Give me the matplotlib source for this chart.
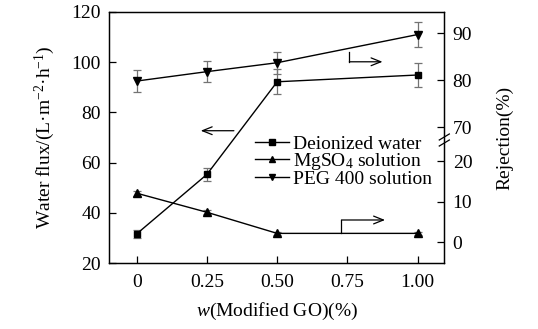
import numpy as np
import matplotlib
matplotlib.use("Agg")
import matplotlib.pyplot as plt
from matplotlib.lines import Line2D

plt.rcParams['font.family'] = ['Liberation Serif', 'DejaVu Serif']
plt.rcParams['mathtext.fontset'] = 'custom'
plt.rcParams['mathtext.rm'] = 'Liberation Serif'
plt.rcParams['mathtext.it'] = 'Liberation Serif:italic'
plt.rcParams['font.size'] = 14

# ---- data ----
go_content = [0, 0.25, 0.50, 1.00]
x_ticks = [0, 0.25, 0.50, 0.75, 1.00]
x_ticklabels = ["0", "0.25", "0.50", "0.75", "1.00"]

flux_water = [31.6, 55.3, 92.2, 94.9]
flux_water_err = [1.5, 2.5, 5.0, 4.8]

rej_mgso4 = [12.1, 7.4, 2.2, 2.2]
rej_mgso4_err = [0.6, 0.5, 0.4, 0.4]

rej_peg = [79.8, 81.8, 83.7, 89.7]
rej_peg_err = [2.3, 2.3, 2.3, 2.7]

series_labels = ['Deionized water', 'MgSO$_4$ solution', 'PEG 400 solution']

left_ticks = [20, 40, 60, 80, 100, 120]
right_ticks = [0, 10, 20, 70, 80, 90]

# ---- broken right-axis scale ----
B0, S1 = 20.7, 4.06
U25 = B0 + S1 * 25
U70, S2 = 136.0, 4.7

def fwd(v):
    v = np.asarray(v, dtype=float)
    return np.where(v <= 25, B0 + S1 * v,
                    np.where(v < 70, U25 + (v - 25) * (U70 - U25) / 45.0,
                             U70 + S2 * (v - 70)))

def inv(u):
    u = np.asarray(u, dtype=float)
    return np.where(u <= U25, (u - B0) / S1,
                    np.where(u < U70, 25 + (u - U25) * 45.0 / (U70 - U25),
                             70 + (u - U70) / S2))

fig = plt.figure(figsize=(5.38, 3.29), dpi=100)
ax = fig.add_axes([109/538, 1-263/329, (444.3-109)/538, (263-12)/329])
ax2 = ax.twinx()
ax2.set_yscale('function', functions=(fwd, inv))

ebar_kw = dict(ecolor='0.45', elinewidth=0.9, capsize=3, capthick=0.9)

ax.errorbar(go_content, flux_water, yerr=flux_water_err, color='black',
            lw=1.0, marker='s', ms=5, **ebar_kw)
ax2.errorbar(go_content, rej_mgso4, yerr=rej_mgso4_err, color='black',
             lw=1.0, marker='^', ms=6, **ebar_kw)
ax2.errorbar(go_content, rej_peg, yerr=rej_peg_err, color='black',
             lw=1.0, marker='v', ms=6, **ebar_kw)

ax.set_xlim(-0.0986, 1.095)
ax.set_ylim(20, 120)
ax2.set_ylim(-5.1, 94.5)

ax.set_xticks(x_ticks)
ax.set_xticklabels(x_ticklabels)
ax.set_yticks(left_ticks)
ax2.set_yticks(right_ticks)
ax2.set_yticklabels([str(t) for t in right_ticks])
ax2.minorticks_off()

for a in (ax, ax2):
    a.tick_params(direction='in', length=5, width=0.9, labelsize=14, pad=6)
    for s in a.spines.values():
        s.set_linewidth(0.9)
ax.tick_params(axis='x', pad=8)
ax.tick_params(axis='y', right=False)

ax.set_xlabel('$w$(Modified GO)(%)', fontsize=14, labelpad=7)
ax.set_ylabel('Water flux/(L·m$^{-2}$·h$^{-1}$)', fontsize=14, labelpad=10)
ax2.set_ylabel('Rejection(%)', fontsize=14, labelpad=17)

# arrows
arrow_kw = dict(arrowstyle='->,head_length=0.5,head_width=0.2', lw=0.9, color='black',
                shrinkA=0, shrinkB=0)
ax.annotate('', xy=(0.228, 72.7), xytext=(0.346, 72.7), arrowprops=arrow_kw)
ax2.plot([0.757, 0.757], [86.0, 83.9], color='black', lw=0.9)
ax2.annotate('', xy=(0.875, 83.9), xytext=(0.757, 83.9), arrowprops=arrow_kw)
ax2.plot([0.729, 0.729], [2.2, 5.5], color='black', lw=0.9)
ax2.annotate('', xy=(0.884, 5.5), xytext=(0.729, 5.5), arrowprops=arrow_kw)

# break marks on right spine
yb = (263 - 140) / 251
for dy in (-0.012, 0.012):
    ax2.plot([0.985, 1.015], [yb + dy - 0.012, yb + dy + 0.012], transform=ax2.transAxes,
             color='black', lw=0.9, clip_on=False)

markers = ['s', '^', 'v']
handles = [Line2D([], [], color='black', lw=1.0, marker=m, ms=4.5) for m in markers]
leg = ax2.legend(handles, series_labels, loc='upper left',
                 bbox_to_anchor=(255/538, 1-135/329), bbox_transform=fig.transFigure,
                 frameon=False, borderpad=0, borderaxespad=0, handlelength=1.75,
                 handletextpad=0.2, labelspacing=-0.08, fontsize=14)

fig.savefig('out.png', dpi=100)
